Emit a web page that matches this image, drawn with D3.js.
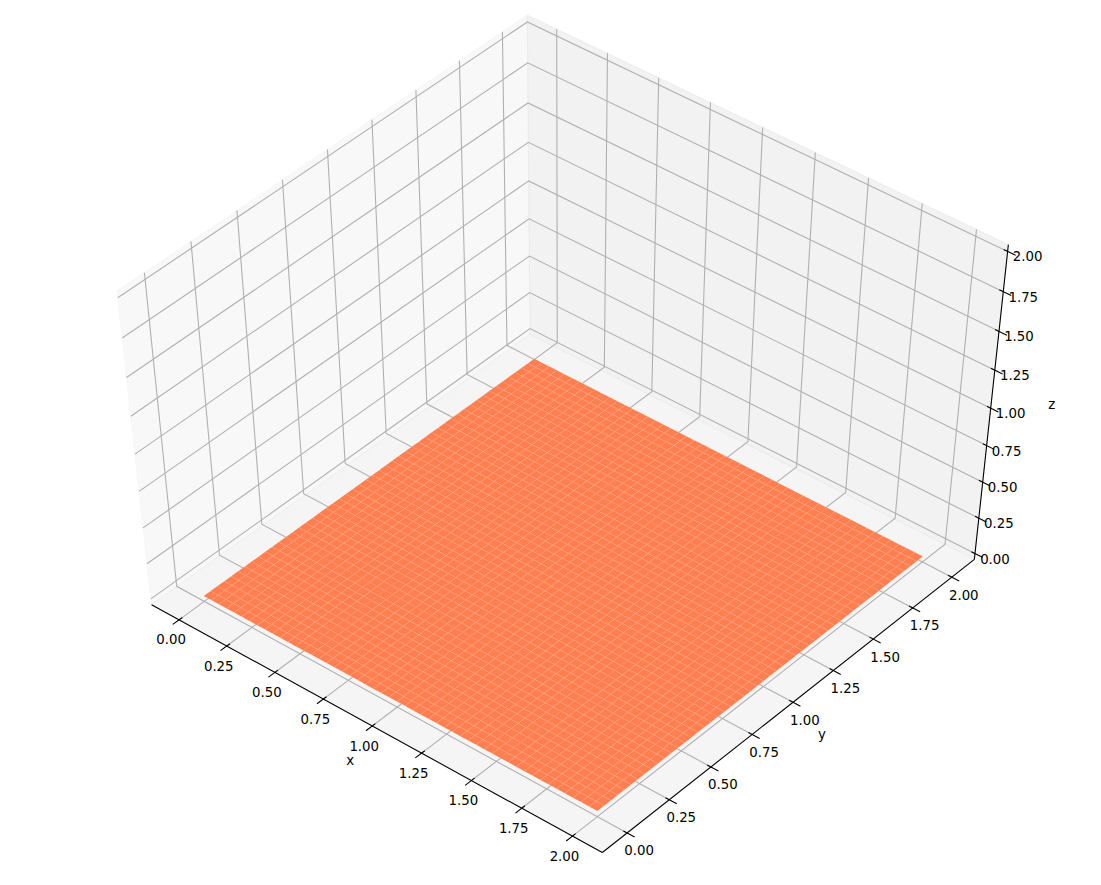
<!DOCTYPE html>
<html>
<head>
<meta charset="utf-8">
<script src="https://cdn.jsdelivr.net/npm/d3@7"></script>
<style>
  html, body { margin: 0; background: #fff; }
  text { font-family: "DejaVu Sans", sans-serif; font-size: 13.33px; fill: #000; }
</style>
</head>
<body>
<svg id="chart" width="1101" height="885"></svg>
<script>
'use strict';

const xTicks = [0, 0.25, 0.5, 0.75, 1, 1.25, 1.5, 1.75, 2];
const yTicks = [0, 0.25, 0.5, 0.75, 1, 1.25, 1.5, 1.75, 2];
const zTicks = [0, 0.25, 0.5, 0.75, 1, 1.25, 1.5, 1.75, 2];
const xLimits = [-0.1, 2.1];
const yLimits = [-0.1, 2.1];
const zLimits = [0, 2];

// grid of the surface, read as 50 patches per side
const surfaceXs = [0, 0.04, 0.08, 0.12, 0.16, 0.2, 0.24, 0.28, 0.32, 0.36, 0.4, 0.44, 0.48, 0.52, 0.56, 0.6, 0.64,
  0.68, 0.72, 0.76, 0.8, 0.84, 0.88, 0.92, 0.96, 1, 1.04, 1.08, 1.12, 1.16, 1.2, 1.24, 1.28, 1.32, 1.36, 1.4, 1.44,
  1.48, 1.52, 1.56, 1.6, 1.64, 1.68, 1.72, 1.76, 1.8, 1.84, 1.88, 1.92, 1.96, 2];
const surfaceYs = surfaceXs;
const surfaceZ = 0;

// camera, same maths as mplot3d, numbers fitted to the picture
const ELEV = 50.16 * Math.PI / 180;
const AZIM = -50.01 * Math.PI / 180;
const DIST = 10.115;

const worldX = d3.scaleLinear().domain(xLimits).range([-0.5, 0.5]);
const worldY = d3.scaleLinear().domain(yLimits).range([-0.5, 0.5]);
const worldZ = d3.scaleLinear().domain(zLimits).range([-0.5057, 0.5057]);
const screenX = d3.scaleLinear().domain([-0.1, 0.1]).range([564.57 - 589.81, 564.57 + 589.81]);
const screenY = d3.scaleLinear().domain([-0.1, 0.1]).range([431.1 + 470.1, 431.1 - 470.1]);

const nx = Math.cos(AZIM) * Math.cos(ELEV);
const ny = Math.sin(AZIM) * Math.cos(ELEV);
const nz = Math.sin(ELEV);
const ul = Math.hypot(nx, ny);
const ux = -ny / ul;
const uy = nx / ul;
const vx = -nz * uy;
const vy = nz * ux;
const vz = nx * uy - ny * ux;

function project([x, y, z]) {
  const a = worldX(x);
  const b = worldY(y);
  const c = worldZ(z);
  const depth = DIST - (nx * a + ny * b + nz * c);
  return [screenX((ux * a + uy * b) / depth), screenY((vx * a + vy * b + vz * c) / depth)];
}

const line3d = d3.line().x((p) => project(p)[0]).y((p) => project(p)[1]);

// panes reach 1/48 of the range past the limits, ticks are sized from 1/12 of it
const xPad = (xLimits[1] - xLimits[0]) / 48;
const yPad = (yLimits[1] - yLimits[0]) / 48;
const zPad = (zLimits[1] - zLimits[0]) / 48;
const x0 = xLimits[0] - xPad;
const x1 = xLimits[1] + xPad;
const y0 = yLimits[0] - yPad;
const y1 = yLimits[1] + yPad;
const z0 = zLimits[0] - zPad;
const z1 = zLimits[1] + zPad;
const tickOut = (xPad * 4) * 0.2;
const tickIn = (xPad * 4) * 0.1;

// the floor lines of the reference meet the walls on a slightly tilted plane:
// z = 0 in the back corner, down to the pane edge at the front
const elbowX = d3.scaleLinear().domain([x0, x1]).range([zLimits[0], z0]);
const elbowY = d3.scaleLinear().domain([y1, y0]).range([zLimits[0], z0]);

const svg = d3.select('#chart');

const panes = [
  { fill: 'rgb(242,242,242)', pts: [[x0, y0, z0], [x0, y1, z0], [x0, y1, z1], [x0, y0, z1]] },
  { fill: 'rgb(230,230,230)', pts: [[x0, y1, z0], [x1, y1, z0], [x1, y1, z1], [x0, y1, z1]] },
  { fill: 'rgb(236,236,236)', pts: [[x0, y0, z0], [x1, y0, z0], [x1, y1, z0], [x0, y1, z0]] }
];

svg.append('g')
  .selectAll('path')
  .data(panes)
  .join('path')
  .attr('d', (d) => line3d(d.pts) + 'Z')
  .attr('fill', (d) => d.fill)
  .attr('fill-opacity', 0.5)
  .attr('stroke', (d) => d.fill)
  .attr('stroke-opacity', 0.5)
  .attr('stroke-width', 1);

const gridLines = [
  ...xTicks.map((t) => [[t, y0, z0], [t, y1, elbowX(t)], [t, y1, z1]]),
  ...yTicks.map((t) => [[x1, t, z0], [x0, t, elbowY(t)], [x0, t, z1]]),
  ...zTicks.map((t) => [[x1, y1, t], [x0, y1, t], [x0, y0, t]])
];

svg.append('g')
  .selectAll('path')
  .data(gridLines)
  .join('path')
  .attr('d', line3d)
  .attr('fill', 'none')
  .attr('stroke', '#b0b0b0')
  .attr('stroke-width', 1.1);

const patches = d3.cross(d3.range(surfaceXs.length - 1), d3.range(surfaceYs.length - 1));

svg.append('g')
  .selectAll('path')
  .data(patches)
  .join('path')
  .attr('d', ([i, j]) => line3d([
    [surfaceXs[i], surfaceYs[j], surfaceZ],
    [surfaceXs[i + 1], surfaceYs[j], surfaceZ],
    [surfaceXs[i + 1], surfaceYs[j + 1], surfaceZ],
    [surfaceXs[i], surfaceYs[j + 1], surfaceZ]
  ]) + 'Z')
  .attr('fill', '#ff7f50')
  .attr('stroke', '#fff')
  .attr('stroke-opacity', 0.12)
  .attr('stroke-width', 0.4);

const axisLines = [
  [[x0, y0, z0], [x1, y0, z0]],
  [[x1, y0, z0], [x1, y1, z0]],
  [[x1, y1, z0], [x1, y1, z1]]
];

const tickLines = [
  ...xTicks.map((t) => [[t, y0 + tickIn, z0], [t, y0 - tickOut, z0]]),
  ...yTicks.map((t) => [[x1 - tickIn, t, z0], [x1 + tickOut, t, z0]]),
  ...zTicks.map((t) => [[x1 - tickIn, y1, t], [x1 + tickOut, y1, t]])
];

svg.append('g')
  .selectAll('path')
  .data(axisLines.concat(tickLines))
  .join('path')
  .attr('d', line3d)
  .attr('fill', 'none')
  .attr('stroke', '#000')
  .attr('stroke-width', 1.1);

const tickLabels = [
  ...xTicks.map((t) => ({ t, at: [t, y0, z0], dx: -8, dy: 20 })),
  ...yTicks.map((t) => ({ t, at: [x1, t, z0], dx: 12, dy: 18 })),
  ...zTicks.map((t) => ({ t, at: [x1, y1, t], dx: 20, dy: 5.5 }))
];

svg.append('g')
  .selectAll('text')
  .data(tickLabels)
  .join('text')
  .attr('x', (d) => project(d.at)[0] + d.dx)
  .attr('y', (d) => project(d.at)[1] + d.dy)
  .attr('text-anchor', 'middle')
  .attr('dominant-baseline', 'central')
  .text((d) => d.t.toFixed(2));

const axisTitles = [
  { label: 'x', at: [1, y0, z0], dx: -22, dy: 34 },
  { label: 'y', at: [x1, 1, z0], dx: 29, dy: 32 },
  { label: 'z', at: [x1, y1, 1], dx: 61, dy: -4 }
];

svg.append('g')
  .selectAll('text')
  .data(axisTitles)
  .join('text')
  .attr('x', (d) => project(d.at)[0] + d.dx)
  .attr('y', (d) => project(d.at)[1] + d.dy)
  .attr('text-anchor', 'middle')
  .attr('dominant-baseline', 'central')
  .text((d) => d.label);
</script>
</body>
</html>
